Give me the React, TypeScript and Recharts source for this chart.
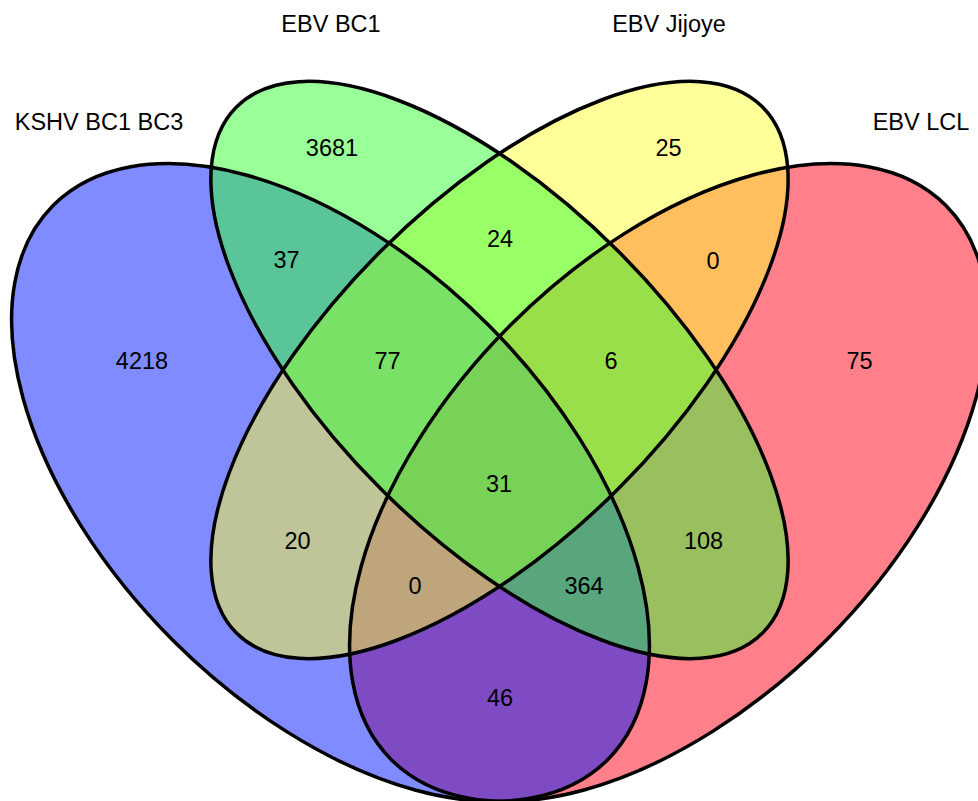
import { ScatterChart, Scatter, XAxis, YAxis } from 'recharts'

// sets and counts
const setNames = ['KSHV BC1 BC3', 'EBV BC1', 'EBV Jijoye', 'EBV LCL']
const setColors = ['#0018FF', '#33FF33', '#FFFF33', '#FF0016']
const regionKeys = ['A', 'B', 'C', 'D', 'AB', 'BC', 'CD', 'ABC', 'BCD', 'ABCD', 'AC', 'BD', 'ACD', 'ABD', 'AD']
const regionCounts = [4218, 3681, 25, 75, 37, 24, 0, 77, 6, 31, 20, 108, 0, 364, 46]

// layout, in chart units (1 unit = 1px)
const ellipseX = [330.5, 499.5, 499.5, 668.5]
const ellipseY = [482.5, 370, 370, 482.5]
const ellipseRx = [392, 372, 372, 392]
const ellipseRy = [223, 168, 168, 223]
const ellipseAngle = [45, 45, -45, -45]
const fillOrder = [3, 0, 2, 1]

const titleX = [99, 331, 669, 921]
const titleY = [130, 32, 32, 130]
const regionX = [142, 332, 668.5, 859.5, 286.5, 500, 713, 387.5, 611, 499, 297.5, 703.5, 415, 584, 500]
const regionY = [360.5, 147, 147, 360.5, 259, 238, 260, 360, 360, 483.5, 540, 540, 585, 585, 697]

const W = 978
const H = 801
const FONT = '"Liberation Sans", Arial, sans-serif'

const ellipses = setNames.map((name, i) => ({
  name,
  x: ellipseX[i],
  y: ellipseY[i],
  rx: ellipseRx[i],
  ry: ellipseRy[i],
  angle: ellipseAngle[i],
  color: setColors[i],
}))
const fills = fillOrder.map((i) => ellipses[i])

const titles = setNames.map((name, i) => ({ name, x: titleX[i], y: titleY[i] }))
const regions = regionKeys.map((key, i) => ({
  key,
  count: regionCounts[i],
  x: regionX[i],
  y: regionY[i],
}))

const FillShape = (props: any) => {
  const { cx, cy, payload } = props
  return (
    <ellipse
      cx={cx}
      cy={cy}
      rx={payload.rx}
      ry={payload.ry}
      transform={`rotate(${payload.angle} ${cx} ${cy})`}
      fill={payload.color}
      fillOpacity={0.5}
    />
  )
}

const LineShape = (props: any) => {
  const { cx, cy, payload } = props
  return (
    <ellipse
      cx={cx}
      cy={cy}
      rx={payload.rx}
      ry={payload.ry}
      transform={`rotate(${payload.angle} ${cx} ${cy})`}
      fill="none"
      stroke="#000"
      strokeWidth={3.5}
    />
  )
}

const TitleShape = (props: any) => {
  const { cx, cy, payload } = props
  return (
    <text x={cx} y={cy} textAnchor="middle" fontFamily={FONT} fontSize={23.5} fill="#000">
      {payload.name}
    </text>
  )
}

const CountShape = (props: any) => {
  const { cx, cy, payload } = props
  return (
    <text x={cx} y={cy + 8.5} textAnchor="middle" fontFamily={FONT} fontSize={23.5} fill="#000">
      {payload.count}
    </text>
  )
}

export default function App() {
  return (
    <div style={{ position: 'absolute', left: 0, top: 0, width: W, height: H, background: '#fff' }}>
      <ScatterChart width={W} height={H} margin={{ top: 0, right: 0, bottom: 0, left: 0 }}>
        <XAxis type="number" dataKey="x" domain={[0, W]} hide />
        <YAxis type="number" dataKey="y" domain={[0, H]} reversed hide />
        <Scatter data={fills} shape={FillShape} isAnimationActive={false} />
        <Scatter data={ellipses} shape={LineShape} isAnimationActive={false} />
        <Scatter data={regions} shape={CountShape} isAnimationActive={false} />
        <Scatter data={titles} shape={TitleShape} isAnimationActive={false} />
      </ScatterChart>
    </div>
  )
}
